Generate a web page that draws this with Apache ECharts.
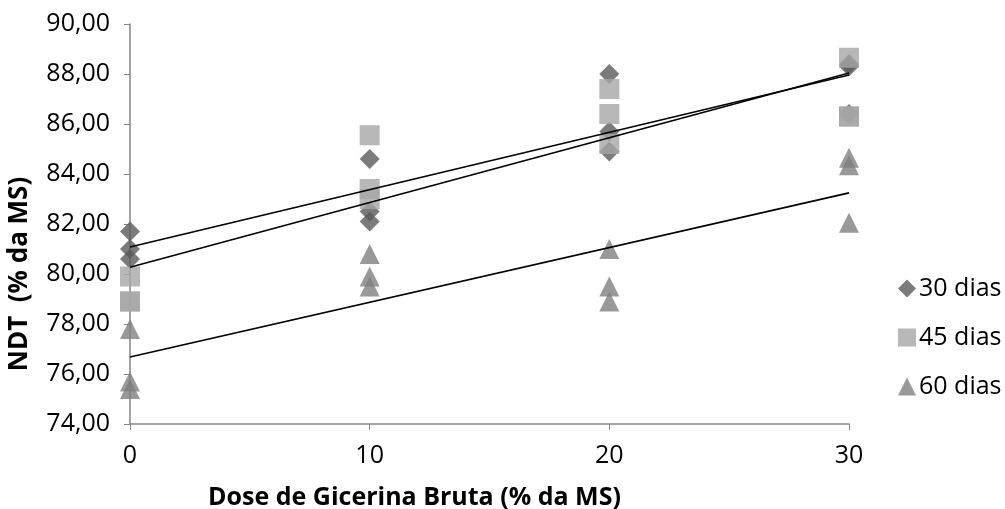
<!DOCTYPE html>
<html><head><meta charset="utf-8">
<script src="https://cdn.jsdelivr.net/npm/echarts@6/dist/echarts.min.js"></script>
<style>html,body{margin:0;padding:0;background:#fff}#c{width:1005px;height:509px}</style>
</head><body><div id="c"></div>
<script>
// Dose (% da MS) and NDT values
const s30x = [0,0,0, 10,10,10, 20,20,20, 30,30,30];
const s30y = [81.7,81.0,80.6, 84.6,82.5,82.1, 88.0,85.7,84.9, 88.4,88.3,86.4];
const s45x = [0,0,0, 10,10,10, 20,20,20, 30,30,30];
const s45y = [79.9,78.9,78.9, 85.55,83.4,83.0, 87.4,86.4,85.2, 88.65,86.3,86.3];
const s60x = [0,0,0, 10,10,10, 20,20,20, 30,30,30];
const s60y = [77.8,75.7,75.4, 80.8,79.9,79.5, 81.0,79.5,78.9, 84.65,84.35,82.05];
const seriesNames = ['30 dias','45 dias','60 dias'];
const yTicks = [74,76,78,80,82,84,86,88,90];
const xTicks = [0,10,20,30];

function pts(xs, ys){ return xs.map((x,i)=>[x, ys[i]]); }
function fit(xs, ys){
  const n = xs.length;
  const mx = xs.reduce((a,b)=>a+b,0)/n, my = ys.reduce((a,b)=>a+b,0)/n;
  let sxy=0, sxx=0;
  for(let i=0;i<n;i++){ sxy+=(xs[i]-mx)*(ys[i]-my); sxx+=(xs[i]-mx)*(xs[i]-mx); }
  const b = sxy/sxx, a = my-b*mx;
  const x0 = xTicks[0], x1 = xTicks[xTicks.length-1];
  return [[x0, a+b*x0],[x1, a+b*x1]];
}
const font = 'Open Sans';
const fs = 25;
const chart = echarts.init(document.getElementById('c'), null, {renderer:'canvas'});
const scatter = (name, xs, ys, symbol, color) => ({
  name, type:'scatter', data: pts(xs,ys), symbol, symbolSize:20,
  itemStyle:{color}, z:2, emphasis:{disabled:true}
});
const trend = (xs, ys) => ({
  type:'line', data: fit(xs,ys), symbol:'none', lineStyle:{color:'#000', width:1.6},
  z:5, silent:true, legendHoverLink:false
});
chart.setOption({
  animation:false,
  grid:{left:130, right:156, top:24, bottom:85, containLabel:false, outerBoundsMode:'none'},
  legend:{
    orient:'vertical', left:893, top:271, itemGap:24, itemWidth:18, itemHeight:18,
    data:[{name:'30 dias', icon:'diamond'},{name:'45 dias', icon:'rect'},{name:'60 dias', icon:'triangle'}],
    textStyle:{fontFamily:font, fontSize:fs, color:'#000', padding:[0,0,0,-2]}
  },
  xAxis:{
    type:'value', min:0, max:30, interval:10,
    axisLine:{lineStyle:{color:'#868686', width:1.5}},
    axisTick:{show:true, length:6, lineStyle:{color:'#868686'}},
    splitLine:{show:false},
    axisLabel:{fontFamily:font, fontSize:fs, color:'#000', margin:19},
    name:'Dose de Gicerina Bruta (% da MS)', nameLocation:'middle', nameGap:61,
    nameTextStyle:{fontFamily:font, fontSize:fs, fontWeight:'bold', color:'#000', padding:[0,150,0,0]}
  },
  yAxis:{
    type:'value', min:74, max:90, interval:2,
    axisLine:{show:true, lineStyle:{color:'#868686', width:1.5}},
    axisTick:{show:true, length:6, lineStyle:{color:'#868686'}},
    splitLine:{show:false},
    axisLabel:{fontFamily:font, fontSize:fs, color:'#000', margin:20, formatter:v=>v.toFixed(2).replace('.',',')},
    name:'NDT  (% da MS)', nameLocation:'middle', nameGap:97, nameRotate:90,
    nameTextStyle:{fontFamily:font, fontSize:26, fontWeight:'bold', color:'#000', padding:[0,100,0,0]}
  },
  series:[
    scatter(seriesNames[0], s30x, s30y, 'diamond', '#5a5a5a'),
    scatter(seriesNames[1], s45x, s45y, 'rect', '#a6a6a6'),
    scatter(seriesNames[2], s60x, s60y, 'triangle', '#7f7f7f'),
    trend(s30x, s30y), trend(s45x, s45y), trend(s60x, s60y)
  ]
});
</script></body></html>
